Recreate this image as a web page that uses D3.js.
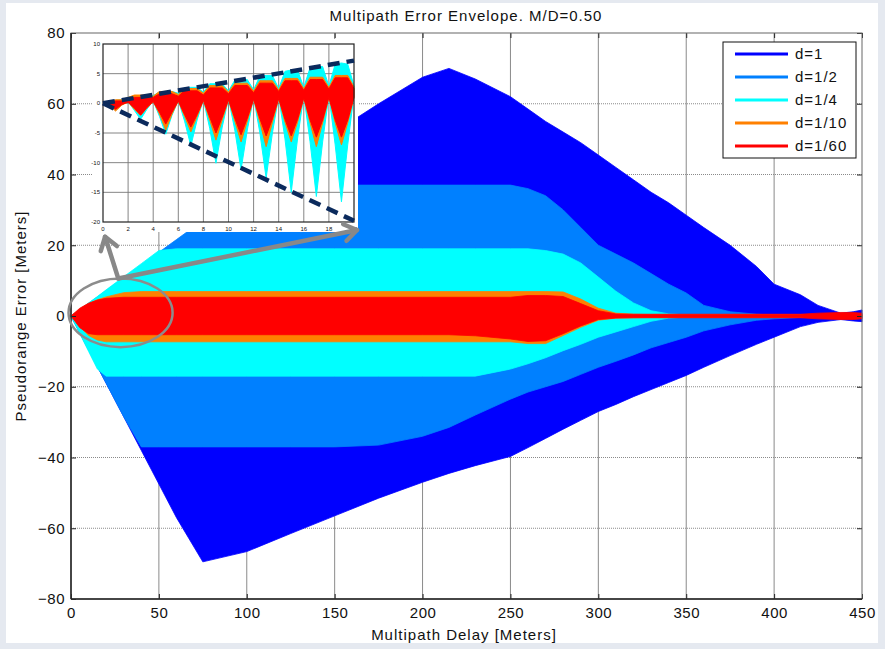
<!DOCTYPE html>
<html>
<head>
<meta charset="utf-8">
<title>Multipath Error Envelope</title>
<script src="https://d3js.org/d3.v7.min.js"></script>
<style>
  body { margin: 0; background: #e5e9f0; }
  svg text { font-family: "Liberation Sans", Arial, sans-serif; fill: #111; }
</style>
</head>
<body>
<div id="chart"></div>
<script>
// ---- data (envelopes of the oscillating error curves) ----
var delay = [0, 5, 10, 15, 20, 30, 40, 50, 60, 75, 100, 125, 150, 175, 200, 215, 230, 250, 260, 270,
             280, 290, 300, 310, 320, 330, 340, 350, 360, 375, 390, 400, 415, 425, 438, 445, 450];

var d1Upper = [0, 1.7, 3.5, 5.2, 7, 10.4, 13.8, 17.3, 20.7, 26, 34.5, 43, 52, 60, 67.5, 70, 67, 62, 58.5, 55,
               52, 49, 45.5, 42, 38.5, 35, 32, 28.5, 25, 20, 14, 9, 6, 3, 0.8, 1.2, 1.7];
var d1Lower = [0, -4.8, -9.5, -14.3, -19, -28.5, -38, -47.5, -57, -69.5, -66.6, -61.5, -56.5, -51.5, -47, -44.5, -42.3, -39.7, -37.2, -34.6,
               -32, -29.5, -27, -25, -22.8, -20.8, -18.8, -16.8, -14.5, -11.2, -8, -6, -3, -1.8, -1, -1.4, -1.6];

var d2Upper = [0, 1.8, 3.6, 5.4, 7.2, 10.8, 14.4, 18, 21.6, 27, 36.5, 37, 37, 37, 37, 37, 37, 37, 36, 34,
               30, 25, 20, 17.5, 15, 12, 9, 6.5, 3, 1.2, 0.5, 0.3, 0.3, 0.3, 0.3, 0.3, 0.3];
var d2Lower = [0, -4.8, -9.5, -14.3, -19, -28.5, -37, -37, -37, -37, -37, -37, -37, -36.5, -34, -31.5, -28, -23.5, -21.5, -20,
               -18.5, -16.5, -14.5, -12.8, -11, -9, -7.5, -6, -4.2, -2.5, -1.2, -0.8, -0.4, -0.3, -0.3, -0.3, -0.3];

var d4thUpper = [0, 1.85, 3.7, 5.5, 7.4, 11.1, 14.8, 18.5, 19, 19, 19, 19, 19, 19, 19, 19, 19, 19, 19, 18.5,
                 17.5, 15, 11, 7, 3.7, 1.5, 0.6, 0.3, 0.3, 0.3, 0.3, 0.3, 0.3, 0.3, 0.3, 0.3, 0.3];
var d4thLower = [0, -5, -10, -15, -17, -17, -17, -17, -17, -17, -17, -17, -17, -17, -17, -17, -17, -15, -13.5, -11.8,
                 -9.8, -8, -6, -4.5, -3, -1.5, -0.6, -0.3, -0.3, -0.3, -0.3, -0.3, -0.3, -0.3, -0.3, -0.3, -0.3];

var d10Upper = [0, 2, 3.5, 4.6, 5.4, 6.6, 6.9, 6.9, 6.9, 6.9, 6.9, 6.9, 6.9, 6.9, 6.9, 6.9, 6.9, 6.9, 6.9, 6.9,
                6.8, 4.8, 2.2, 0.8, 0.5, 0.4, 0.4, 0.4, 0.4, 0.4, 0.4, 0.4, 0.4, 0.4, 0.4, 0.4, 0.4];
var d10Lower = [0, -3, -5.5, -6.8, -7.3, -7.3, -7.3, -7.3, -7.3, -7.3, -7.3, -7.3, -7.3, -7.3, -7.3, -7.3, -7.3, -7.3, -7.8, -7.8,
                -5.5, -3.2, -1.2, -0.6, -0.5, -0.4, -0.4, -0.4, -0.4, -0.4, -0.4, -0.4, -0.4, -0.4, -0.4, -0.4, -0.4];

var d60Upper = [0, 2.2, 3.6, 4.5, 5, 5.3, 5.3, 5.3, 5.3, 5.3, 5.3, 5.3, 5.3, 5.3, 5.3, 5.3, 5.3, 5.3, 5.8, 5.8,
                5.5, 3.5, 1.5, 0.6, 0.5, 0.5, 0.5, 0.5, 0.5, 0.5, 0.5, 0.5, 0.5, 0.8, 1.0, 1.0, 0.8];
var d60Lower = [0, -3.3, -5, -5.3, -5.3, -5.3, -5.3, -5.3, -5.3, -5.3, -5.3, -5.3, -5.3, -5.3, -5.3, -5.3, -5.6, -6.5, -7.2, -7,
                -5, -2.8, -1, -0.6, -0.5, -0.5, -0.5, -0.5, -0.5, -0.5, -0.5, -0.5, -0.5, -0.8, -1.0, -1.0, -0.8];

var seriesNames = ["d=1", "d=1/2", "d=1/4", "d=1/10", "d=1/60"];
var seriesColors = ["#0000ff", "#0080ff", "#00ffff", "#ff8000", "#ff0000"];

// inset: first 20 m
var insetDelay = [0, 0.5, 1, 1.5, 2, 2.5, 3, 3.5, 4, 4.5, 5, 5.5, 6, 6.5, 7, 7.5, 8, 8.5, 9, 9.5, 10,
                  10.5, 11, 11.5, 12, 12.5, 13, 13.5, 14, 14.5, 15, 15.5, 16, 16.5, 17, 17.5, 18, 18.5, 19, 19.5, 20];
var insetCyanUpper = [0, 0.2, 0.5, 0.6, 1.0, 1.2, 1.3, 1.3, 1.3, 1.9, 2.0, 2.0, 1.7, 2.6, 2.7, 2.7, 1.9, 3.3, 3.3, 3.3, 2.1,
                      3.9, 4.0, 4.0, 2.3, 4.6, 4.7, 4.7, 2.5, 5.4, 5.6, 5.6, 2.7, 6.0, 6.2, 6.2, 2.9, 6.6, 6.8, 6.6, 3.0];
var insetCyanLower = [0, -0.3, -1.2, -0.2, 0.3, -1.2, -2.7, -1.0, 0.4, -2.2, -5.2, -2.0, 0.5, -3.0, -7.2, -2.8, 0.6, -4.2, -10.1, -4.0, 0.8,
                      -4.5, -11.2, -4.5, 1.0, -5.0, -12.6, -5.0, 1.2, -6.0, -15.0, -6.0, 1.3, -6.5, -15.7, -6.5, 1.4, -7.0, -16.6, -7.0, 1.5];
var insetOrangeUpper = [0, 0.2, 0.6, 0.6, 1.0, 1.4, 1.4, 1.4, 1.2, 2.0, 2.0, 2.0, 1.5, 2.5, 2.5, 2.5, 1.7, 3.0, 3.0, 3.0, 1.9,
                        3.4, 3.4, 3.4, 2.1, 3.8, 3.8, 3.8, 2.3, 4.2, 4.2, 4.2, 2.5, 4.4, 4.4, 4.4, 2.7, 4.7, 4.7, 4.7, 2.8];
var insetOrangeLower = [0, -0.3, -1.3, -0.3, 0.2, -1.0, -2.0, -0.8, 0.3, -1.8, -4.5, -1.8, 0.4, -2.2, -4.8, -2.2, 0.5, -2.8, -6.2, -2.8, 0.6,
                        -3.0, -6.5, -3.0, 0.7, -3.2, -7.3, -3.2, 0.8, -3.2, -6.5, -3.2, 0.9, -3.3, -7.3, -3.3, 1.0, -3.3, -7.0, -3.3, 1.0];
var insetRedUpper = [0, 0.2, 0.4, 0.4, 0.8, 1.0, 1.0, 1.0, 1.0, 1.6, 1.6, 1.6, 1.2, 2.1, 2.1, 2.1, 1.4, 2.6, 2.6, 2.6, 1.6,
                     3.0, 3.0, 3.0, 1.8, 3.4, 3.4, 3.4, 2.0, 3.8, 3.8, 3.8, 2.2, 4.0, 4.0, 4.0, 2.4, 4.3, 4.3, 4.3, 2.5];
var insetRedLower = [0, -0.2, -1.0, -0.2, 0.2, -0.8, -2.0, -0.7, 0.3, -1.5, -3.5, -1.5, 0.4, -1.9, -4.0, -1.9, 0.5, -2.3, -5.0, -2.3, 0.6,
                     -2.5, -5.3, -2.5, 0.7, -2.6, -5.5, -2.6, 0.8, -2.7, -5.5, -2.7, 0.9, -2.8, -5.7, -2.8, 1.0, -2.8, -5.7, -2.8, 1.0];
// dashed envelope bounds drawn on the inset
var insetBoundUpper = [[0, 0], [20, 7.2]];
var insetBoundLower = [[0, 0], [20, -19.8]];

var xTicks = [0, 50, 100, 150, 200, 250, 300, 350, 400, 450];
var yTicks = [-80, -60, -40, -20, 0, 20, 40, 60, 80];
var insetXTicks = [0, 2, 4, 6, 8, 10, 12, 14, 16, 18, 20];
var insetYTicks = [-20, -15, -10, -5, 0, 5, 10];

// ---- layout ----
var W = 885, H = 649;
var svg = d3.select("#chart").append("svg").attr("width", W).attr("height", H);

svg.append("rect").attr("width", W).attr("height", H).attr("fill", "#e5e9f0");
svg.append("rect").attr("x", 6).attr("y", 3).attr("width", 872).attr("height", 640).attr("fill", "#fff");

var x = d3.scaleLinear().domain([0, 450]).range([71, 862]);
var y = d3.scaleLinear().domain([-80, 80]).range([599, 33]);

// grid
var grid = svg.append("g");
grid.selectAll(".gx").data(xTicks.slice(1, -1)).enter().append("line")
    .attr("x1", function (d) { return x(d); }).attr("x2", function (d) { return x(d); })
    .attr("y1", y(-80)).attr("y2", y(80))
    .attr("stroke", "#8a8a8a").attr("stroke-width", 1);
grid.selectAll(".gy").data(yTicks.slice(1, -1)).enter().append("line")
    .attr("x1", x(0)).attr("x2", x(450))
    .attr("y1", function (d) { return y(d); }).attr("y2", function (d) { return y(d); })
    .attr("stroke", "#8a8a8a").attr("stroke-width", 1).attr("stroke-dasharray", "1,1");

// envelopes
var bands = [[d1Upper, d1Lower], [d2Upper, d2Lower], [d4thUpper, d4thLower], [d10Upper, d10Lower], [d60Upper, d60Lower]];
var area = d3.area()
    .x(function (d) { return x(d[0]); })
    .y0(function (d) { return y(d[2]); })
    .y1(function (d) { return y(d[1]); });

bands.forEach(function (b, i) {
    var rows = delay.map(function (t, k) { return [t, b[0][k], b[1][k]]; });
    svg.append("path").datum(rows)
        .attr("d", area)
        .attr("fill", seriesColors[i])
        .attr("stroke", seriesColors[i])
        .attr("stroke-width", 0.8);
});

// axes, ticks inward like matlab
var axB = svg.append("g").attr("transform", "translate(0," + y(-80) + ")")
    .call(d3.axisBottom(x).tickValues(xTicks).tickSizeInner(-5).tickSizeOuter(0).tickPadding(8));
var axL = svg.append("g").attr("transform", "translate(" + x(0) + ",0)")
    .call(d3.axisLeft(y).tickValues(yTicks).tickSizeInner(-5).tickSizeOuter(0).tickPadding(6));
svg.append("g").attr("transform", "translate(0," + y(80) + ")")
    .call(d3.axisTop(x).tickValues(xTicks).tickSizeInner(-5).tickSizeOuter(0).tickFormat(""));
svg.append("g").attr("transform", "translate(" + x(450) + ",0)")
    .call(d3.axisRight(y).tickValues(yTicks).tickSizeInner(-5).tickSizeOuter(0).tickFormat(""));
svg.selectAll(".domain").remove();
svg.selectAll(".tick line").attr("stroke", "#222");
[axB, axL].forEach(function (a) {
    a.selectAll("text").attr("font-size", 15).attr("letter-spacing", 0.5)
        .attr("font-family", "Liberation Sans, Arial, sans-serif").attr("fill", "#111");
});

svg.append("rect").attr("x", x(0)).attr("y", y(80)).attr("width", x(450) - x(0)).attr("height", y(-80) - y(80))
    .attr("fill", "none").attr("stroke", "#666").attr("stroke-width", 1);
svg.append("line").attr("x1", x(0)).attr("x2", x(450)).attr("y1", y(-80)).attr("y2", y(-80)).attr("stroke", "#222").attr("stroke-width", 1.5);
svg.append("line").attr("x1", x(0)).attr("x2", x(0)).attr("y1", y(80)).attr("y2", y(-80)).attr("stroke", "#222").attr("stroke-width", 1.5);

// titles
svg.append("text").attr("x", 466).attr("y", 21).attr("text-anchor", "middle").attr("font-size", 15)
    .attr("letter-spacing", 1).text("Multipath Error Envelope. M/D=0.50");
svg.append("text").attr("x", 464).attr("y", 640).attr("text-anchor", "middle").attr("font-size", 15)
    .attr("letter-spacing", 1).text("Multipath Delay [Meters]");
svg.append("text").attr("transform", "translate(26,316) rotate(-90)").attr("text-anchor", "middle").attr("font-size", 15)
    .attr("letter-spacing", 1).text("Pseudorange Error [Meters]");

// legend
var lg = svg.append("g").attr("transform", "translate(723,42)");
lg.append("rect").attr("width", 133).attr("height", 116).attr("fill", "#fff").attr("stroke", "#111").attr("stroke-width", 1);
seriesNames.forEach(function (n, i) {
    var yy = 12 + i * 23;
    lg.append("line").attr("x1", 12).attr("x2", 65).attr("y1", yy).attr("y2", yy)
        .attr("stroke", seriesColors[i]).attr("stroke-width", 3);
    lg.append("text").attr("x", 72).attr("y", yy + 5).attr("font-size", 15).attr("letter-spacing", 1).text(n);
});

// ---- inset ----
var inset = svg.append("g");
inset.append("rect").attr("x", 92).attr("y", 39).attr("width", 266).attr("height", 193).attr("fill", "#fff");
var ix = d3.scaleLinear().domain([0, 20]).range([103, 354]);
var iy = d3.scaleLinear().domain([-20, 10]).range([222, 44]);

inset.selectAll(".igx").data(insetXTicks.slice(1, -1)).enter().append("line")
    .attr("x1", function (d) { return ix(d); }).attr("x2", function (d) { return ix(d); })
    .attr("y1", iy(-20)).attr("y2", iy(10)).attr("stroke", "#777").attr("stroke-width", 0.9);
inset.selectAll(".igy").data(insetYTicks.slice(1, -1)).enter().append("line")
    .attr("x1", ix(0)).attr("x2", ix(20))
    .attr("y1", function (d) { return iy(d); }).attr("y2", function (d) { return iy(d); })
    .attr("stroke", "#777").attr("stroke-width", 0.9);

var iArea = d3.area()
    .x(function (d) { return ix(d[0]); })
    .y0(function (d) { return iy(d[2]); })
    .y1(function (d) { return iy(d[1]); });
[[insetCyanUpper, insetCyanLower, seriesColors[2]],
 [insetOrangeUpper, insetOrangeLower, seriesColors[3]],
 [insetRedUpper, insetRedLower, seriesColors[4]]].forEach(function (s) {
    var rows = insetDelay.map(function (t, k) { return [t, s[0][k], s[1][k]]; });
    inset.append("path").datum(rows).attr("d", iArea)
        .attr("fill", s[2]).attr("stroke", s[2]).attr("stroke-width", 1).attr("stroke-linejoin", "round");
});

inset.append("rect").attr("x", ix(0)).attr("y", iy(10)).attr("width", ix(20) - ix(0)).attr("height", iy(-20) - iy(10))
    .attr("fill", "none").attr("stroke", "#222").attr("stroke-width", 1.2);
inset.selectAll(".ixl").data(insetXTicks).enter().append("text")
    .attr("x", function (d) { return ix(d); }).attr("y", iy(-20) + 9)
    .attr("text-anchor", "middle").attr("font-size", 6).attr("fill", "#333").text(function (d) { return d; });
inset.selectAll(".iyl").data(insetYTicks).enter().append("text")
    .attr("x", ix(0) - 3).attr("y", function (d) { return iy(d) + 2; })
    .attr("text-anchor", "end").attr("font-size", 6).attr("fill", "#333").text(function (d) { return d; });

var iLine = d3.line().x(function (d) { return ix(d[0]); }).y(function (d) { return iy(d[1]); });
[insetBoundUpper, insetBoundLower].forEach(function (b) {
    inset.append("path").datum(b).attr("d", iLine)
        .attr("fill", "none").attr("stroke", "#0b2a5c").attr("stroke-width", 4.5)
        .attr("stroke-dasharray", "12,7");
});

// ---- callout: ellipse + arrows ----
var calloutCenter = [28.2, 0.9], calloutRadius = [29.6, 9.7];
var arrowTail = [26.9, 10.6];
var arrowHeads = [[19.4, 22.4], [162.7, 24.3]];

svg.append("ellipse")
    .attr("cx", x(calloutCenter[0])).attr("cy", y(calloutCenter[1]))
    .attr("rx", x(calloutRadius[0]) - x(0)).attr("ry", y(0) - y(calloutRadius[1]))
    .attr("fill", "none").attr("stroke", "#8c8c8c").attr("stroke-width", 2.5);

arrowHeads.forEach(function (h) {
    var x0 = x(arrowTail[0]), y0 = y(arrowTail[1]), x1 = x(h[0]), y1 = y(h[1]);
    var ang = Math.atan2(y1 - y0, x1 - x0), L = 15, spread = 0.6;
    svg.append("line").attr("x1", x0).attr("y1", y0).attr("x2", x1).attr("y2", y1)
        .attr("stroke", "#888").attr("stroke-width", 4.5).attr("stroke-linecap", "round");
    svg.append("path")
        .attr("d", "M" + (x1 - L * Math.cos(ang - spread)) + "," + (y1 - L * Math.sin(ang - spread)) +
                   "L" + x1 + "," + y1 +
                   "L" + (x1 - L * Math.cos(ang + spread)) + "," + (y1 - L * Math.sin(ang + spread)))
        .attr("fill", "none").attr("stroke", "#888").attr("stroke-width", 4.5)
        .attr("stroke-linecap", "round").attr("stroke-linejoin", "round");
});
</script>
</body>
</html>
